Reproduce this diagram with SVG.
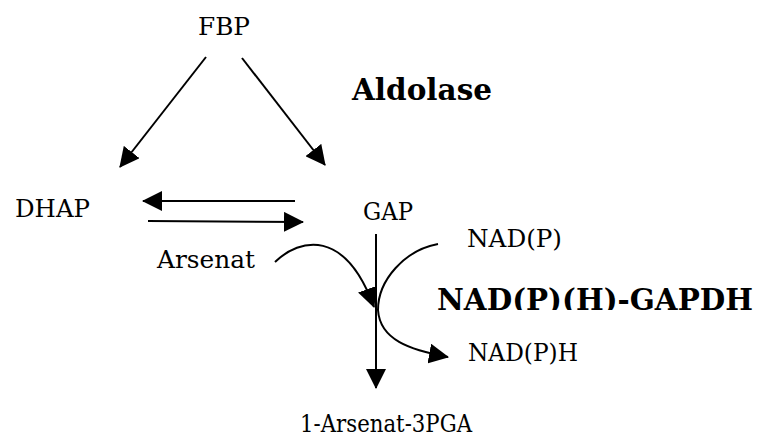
<svg xmlns="http://www.w3.org/2000/svg" width="760" height="437" viewBox="0 0 760 437">
<style>
.t{font-family:"DejaVu Serif","Liberation Serif",serif;font-size:24px;fill:#000}
.b{font-family:"DejaVu Serif","Liberation Serif",serif;font-size:29px;font-weight:bold;fill:#000}
.c{fill:none;stroke:#000;stroke-width:2}
</style>
<defs>
<marker id="ah" viewBox="0 0 20 20" refX="19" refY="10" markerWidth="20" markerHeight="20" markerUnits="userSpaceOnUse" orient="auto">
<path d="M0,0 L20,10 L0,20 z" fill="#000"/>
</marker>
<clipPath id="clipG"><rect x="0" y="0" width="760" height="310"/></clipPath>
</defs>
<rect width="760" height="437" fill="#fff"/>
<g id="connectors">
<path class="c" d="M206,57 L120,167" marker-end="url(#ah)"/>
<path class="c" d="M242,58 L325,165" marker-end="url(#ah)"/>
<path class="c" d="M295,201 L143,201" marker-end="url(#ah)"/>
<path class="c" d="M148,221 L303,222" marker-end="url(#ah)"/>
<path class="c" d="M376,234 L376,388" marker-end="url(#ah)"/>
<path class="c" d="M275,262 C300,238 345,228 374,307" marker-end="url(#ah)"/>
<path class="c" d="M438,244 C405,250 378,280 378,310 C380,340 410,350 448,357" marker-end="url(#ah)"/>
</g>
<g id="FBP"><text class="t" x="198" y="35" textLength="52" lengthAdjust="spacingAndGlyphs">FBP</text></g>
<g id="Aldolase"><text class="b" x="352" y="100" textLength="140" lengthAdjust="spacingAndGlyphs">Aldolase</text></g>
<g id="DHAP"><text class="t" x="15" y="217" textLength="75" lengthAdjust="spacingAndGlyphs">DHAP</text></g>
<g id="GAP"><text class="t" x="363" y="220" textLength="50" lengthAdjust="spacingAndGlyphs">GAP</text></g>
<g id="NADP"><text class="t" x="467" y="247" textLength="95" lengthAdjust="spacingAndGlyphs">NAD(P)</text></g>
<g id="Arsenat"><text class="t" x="157" y="268" textLength="98" lengthAdjust="spacingAndGlyphs">Arsenat</text></g>
<g id="GAPDH" clip-path="url(#clipG)"><text class="b" x="437" y="310" textLength="316" lengthAdjust="spacingAndGlyphs">NAD(P)(H)-GAPDH</text></g>
<g id="NADPH"><text class="t" x="468" y="361" textLength="110" lengthAdjust="spacingAndGlyphs">NAD(P)H</text></g>
<g id="Arsenat3PGA"><text class="t" x="300" y="432" textLength="172" lengthAdjust="spacingAndGlyphs">1-Arsenat-3PGA</text></g>
</svg>
